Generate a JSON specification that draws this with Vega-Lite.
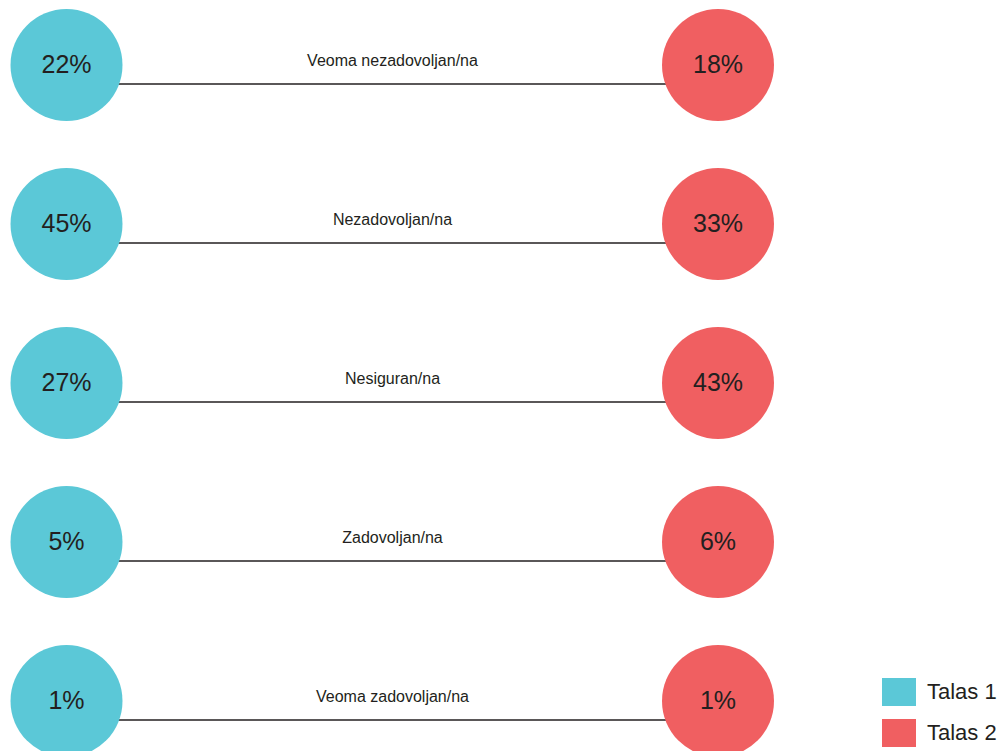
{
  "$schema": "https://vega.github.io/schema/vega-lite/v6.json",
  "width": 1003,
  "height": 751,
  "autosize": "none",
  "padding": 0,
  "background": "white",
  "config": {"view": {"stroke": null}, "font": "Liberation Sans"},
  "data": {
    "values": [
      {"kategorija": "Veoma nezadovoljan/na", "talas": "Talas 1", "procenat": 0.22},
      {"kategorija": "Veoma nezadovoljan/na", "talas": "Talas 2", "procenat": 0.18},
      {"kategorija": "Nezadovoljan/na", "talas": "Talas 1", "procenat": 0.45},
      {"kategorija": "Nezadovoljan/na", "talas": "Talas 2", "procenat": 0.33},
      {"kategorija": "Nesiguran/na", "talas": "Talas 1", "procenat": 0.27},
      {"kategorija": "Nesiguran/na", "talas": "Talas 2", "procenat": 0.43},
      {"kategorija": "Zadovoljan/na", "talas": "Talas 1", "procenat": 0.05},
      {"kategorija": "Zadovoljan/na", "talas": "Talas 2", "procenat": 0.06},
      {"kategorija": "Veoma zadovoljan/na", "talas": "Talas 1", "procenat": 0.01},
      {"kategorija": "Veoma zadovoljan/na", "talas": "Talas 2", "procenat": 0.01}
    ]
  },
  "encoding": {
    "y": {
      "field": "kategorija",
      "type": "nominal",
      "sort": ["Veoma nezadovoljan/na", "Nezadovoljan/na", "Nesiguran/na", "Zadovoljan/na", "Veoma zadovoljan/na"],
      "scale": {"type": "point", "range": [65, 701], "padding": 0},
      "axis": null
    }
  },
  "layer": [
    {
      "transform": [{"filter": "datum.talas === 'Talas 1'"}],
      "mark": {"type": "rule", "color": "#231f20", "strokeWidth": 1.5, "yOffset": 19},
      "encoding": {
        "x": {"datum": "Talas 1", "type": "nominal", "scale": {"type": "point", "domain": ["Talas 1", "Talas 2"], "range": [66.5, 718], "padding": 0}, "axis": null},
        "x2": {"datum": "Talas 2"}
      }
    },
    {
      "mark": {"type": "circle", "size": 12544, "opacity": 1},
      "encoding": {
        "x": {"field": "talas", "type": "nominal", "scale": {"type": "point", "domain": ["Talas 1", "Talas 2"], "range": [66.5, 718], "padding": 0}, "axis": null},
        "color": {
          "field": "talas",
          "type": "nominal",
          "scale": {"domain": ["Talas 1", "Talas 2"], "range": ["#5bc8d7", "#f05f61"]},
          "legend": {
            "title": null,
            "orient": "none",
            "legendX": 882,
            "legendY": 675,
            "padding": 0,
            "symbolType": "M-1,-0.82H1V0.82H-1Z",
            "symbolSize": 1156,
            "symbolStrokeWidth": 0,
            "symbolOpacity": 1,
            "labelFontSize": 22,
            "labelColor": "#231f20",
            "labelOffset": 11,
            "rowPadding": 10,
            "labelFont": "Liberation Sans"
          }
        }
      }
    },
    {
      "mark": {"type": "text", "fontSize": 25, "color": "#231f20", "baseline": "middle", "align": "center"},
      "encoding": {
        "x": {"field": "talas", "type": "nominal", "scale": {"type": "point", "domain": ["Talas 1", "Talas 2"], "range": [66.5, 718], "padding": 0}, "axis": null},
        "text": {"field": "procenat", "type": "quantitative", "format": ".0%"}
      }
    },
    {
      "transform": [{"filter": "datum.talas === 'Talas 1'"}],
      "mark": {"type": "text", "fontSize": 16, "color": "#231f20", "baseline": "middle", "align": "center", "dx": 326, "dy": -4},
      "encoding": {
        "x": {"field": "talas", "type": "nominal", "scale": {"type": "point", "domain": ["Talas 1", "Talas 2"], "range": [66.5, 718], "padding": 0}, "axis": null},
        "text": {"field": "kategorija", "type": "nominal"}
      }
    }
  ]
}
